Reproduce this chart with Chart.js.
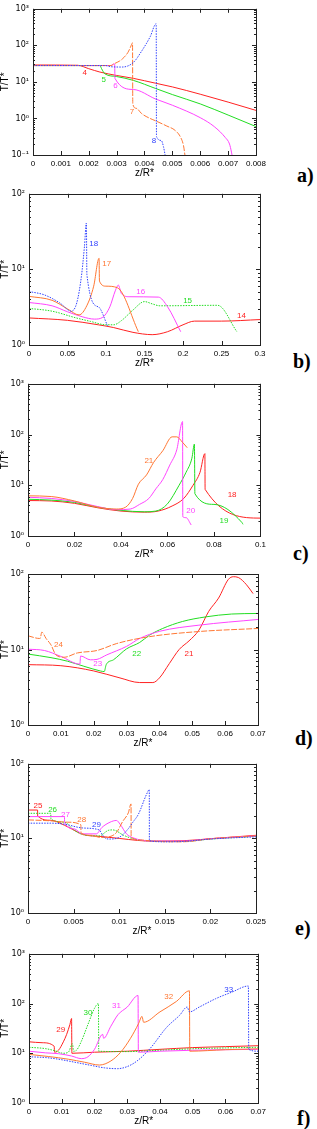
<!DOCTYPE html>
<html>
<head>
<meta charset="utf-8">
<script src="https://cdn.jsdelivr.net/npm/chart.js@4.4.0/dist/chart.umd.min.js"></script>
<style>
  body { margin: 0; background: #fff; width: 317px; height: 1129px; position: relative; overflow: hidden; }
  canvas { position: absolute; left: 0; }
  .tag { position: absolute; font: bold 20px "Liberation Serif", serif; line-height: 20px; color: #000; }
</style>
</head>
<body>
<canvas id="pa" width="270" height="180" style="top:0px"></canvas>
<canvas id="pb" width="270" height="185" style="top:185px"></canvas>
<canvas id="pc" width="270" height="186" style="top:375px"></canvas>
<canvas id="pd" width="270" height="185" style="top:565px"></canvas>
<canvas id="pe" width="270" height="183" style="top:755px"></canvas>
<canvas id="pf" width="270" height="183" style="top:945px"></canvas>
<div class="tag" style="left:297px;top:165px">a)</div>
<div class="tag" style="left:293px;top:351px">b)</div>
<div class="tag" style="left:293px;top:543px">c)</div>
<div class="tag" style="left:295px;top:728px">d)</div>
<div class="tag" style="left:295px;top:918px">e)</div>
<div class="tag" style="left:297px;top:1108px">f)</div>
<script>
// ---- panel a) ----
const a4 = [[0,29],[0.0016,28.5],[0.002,23],[0.0024,18.6],[0.003,15],[0.0036,12.5],[0.0044,9.2],[0.005,7.3],[0.006,4.6],[0.007,2.8],[0.008,1.66]];
const a5 = [[0,28],[0.0024,28],[0.00246,23],[0.00258,16.6],[0.003,14],[0.0036,11],[0.0044,6.6],[0.005,4.5],[0.006,2.5],[0.007,1.24],[0.008,0.6]];
const a6 = [[0,28],[0.0028,28],[0.0029,31],[0.00293,31],[0.00294,12.5],[0.0036,6.2],[0.0044,3.4],[0.005,2.3],[0.006,1.05],[0.0065,0.6],[0.0069,0.3],[0.00705,0.2],[0.00712,0.12],[0.00714,0.1]];
const a7 = [[0,28],[0.0028,28],[0.0029,31],[0.0031,37],[0.0032,42],[0.0034,63],[0.0035,90],[0.00357,117],[0.00358,2.5],[0.0037,1.9],[0.0039,1.35],[0.0042,1.0],[0.0044,0.86],[0.0048,0.62],[0.0051,0.47],[0.0053,0.3],[0.0054,0.18],[0.00545,0.1]];
const a8 = [[0,28],[0.0026,28],[0.0028,26],[0.0032,25.5],[0.0036,34],[0.0039,70],[0.0042,170],[0.00442,390],[0.00443,0.32],[0.0046,0.25],[0.00468,0.17],[0.00474,0.1]];
const aTags = ['4','5','6','7','8'];
const aTagX = [0.00186,0.00254,0.00296,0.00355,0.00434];
const aTagY = [17.4,11.5,7.7,1.49,0.24];
const aXTicks = ['0','0.001','0.002','0.003','0.004','0.005','0.006','0.007','0.008'];

// ---- panel b) ----
const b14 = [[0,2.28],[0.05,2.12],[0.09,1.85],[0.11,1.7],[0.135,1.47],[0.16,1.37],[0.18,1.5],[0.2,1.85],[0.215,2.07],[0.25,2.07],[0.3,2.17]];
const b15 = [[0,3.05],[0.03,2.8],[0.06,2.3],[0.08,2.05],[0.1,1.85],[0.11,1.85],[0.12,2.1],[0.135,2.9],[0.15,3.75],[0.16,3.5],[0.17,3.3],[0.245,3.35],[0.27,1.5]];
const b16 = [[0,3.65],[0.03,3.3],[0.05,2.75],[0.07,2.35],[0.085,2.2],[0.095,2.3],[0.105,3.2],[0.112,5.2],[0.116,6.2],[0.12,4.8],[0.13,4.35],[0.168,4.3],[0.18,3.2],[0.197,1.5]];
const b17 = [[0,4.4],[0.03,3.9],[0.05,3.0],[0.065,2.5],[0.075,3.3],[0.084,6],[0.091,14],[0.0915,7],[0.1,6],[0.115,5.7],[0.142,1.5]];
const b18 = [[0,5.1],[0.02,4.6],[0.04,3.6],[0.055,2.8],[0.062,3.6],[0.068,8],[0.072,20],[0.0745,41],[0.0752,8.5],[0.09,3.2],[0.102,1.8]];
const bTags = ['14','15','16','17','18'];
const bTagX = [0.276,0.206,0.145,0.101,0.084];
const bTagY = [2.4,3.8,5.1,12,22];
const bXTicks = ['0','0.05','0.1','0.15','0.2','0.25','0.3'];

// ---- panel c) ----
const c18 = [[0,5],[0.01,4.9],[0.02,4.4],[0.03,3.6],[0.04,3.1],[0.05,2.95],[0.056,3.1],[0.062,3.9],[0.067,5.5],[0.071,10],[0.074,18],[0.0761,42],[0.0762,8.3],[0.1,2.25]];
const c19 = [[0,5.3],[0.01,5.1],[0.02,4.6],[0.03,3.7],[0.04,3.2],[0.05,3.0],[0.055,3.1],[0.06,4.3],[0.065,10],[0.068,18],[0.0705,34],[0.0716,65],[0.0718,6.8],[0.08,4.2],[0.092,1.85],[0.0925,1.7]];
const c20 = [[0,5.8],[0.01,5.5],[0.02,4.8],[0.03,3.8],[0.038,3.3],[0.044,3.4],[0.048,4.2],[0.052,5.5],[0.055,8.5],[0.058,13],[0.061,25],[0.064,50],[0.0665,180],[0.0666,2.4],[0.068,2.3],[0.0702,1.65]];
const c21 = [[0,6.2],[0.01,6],[0.02,4.9],[0.03,3.7],[0.038,3.4],[0.042,3.7],[0.045,5.5],[0.0475,10.5],[0.051,16],[0.054,28],[0.058,48],[0.062,90],[0.064,90],[0.0665,70],[0.0685,55]];
const cTags = ['18','19','20','21'];
const cTagX = [0.0878,0.0843,0.07,0.052];
const cTagY = [6.6,2.0,3.1,30];
const cXTicks = ['0','0.02','0.04','0.06','0.08','0.1'];

// ---- panel d) ----
const d21 = [[0,6.3],[0.01,6.1],[0.02,5.2],[0.028,4.2],[0.034,3.65],[0.038,3.65],[0.04,4.2],[0.043,6.5],[0.046,10],[0.049,13],[0.052,18],[0.055,32],[0.058,48],[0.061,85],[0.0625,92],[0.064,90],[0.0665,72],[0.0685,55]];
const d22 = [[0,8.7],[0.007,7.8],[0.012,7],[0.017,6],[0.022,5.2],[0.0232,5.1],[0.0238,6.3],[0.026,7.3],[0.03,10.2],[0.034,12.4],[0.037,15.5],[0.041,19],[0.047,23.5],[0.054,27],[0.062,29.5],[0.07,30]];
const d23 = [[0,10.1],[0.005,9.7],[0.01,8.1],[0.0158,6.4],[0.016,8.2],[0.019,7.3],[0.021,7.4],[0.024,8.5],[0.03,11],[0.034,14],[0.04,17.4],[0.052,21],[0.07,25]];
const d24 = [[0,15.2],[0.0035,14],[0.0037,14],[0.0042,17],[0.0055,14],[0.007,11.5],[0.0085,8.5],[0.011,7.9],[0.015,9],[0.021,9.7],[0.027,12],[0.037,14.8],[0.052,17.3],[0.07,19]];
const dTags = ['21','22','23','24'];
const dTagX = [0.049,0.0331,0.0212,0.0093];
const dTagY = [8.7,8.7,6.4,11.5];
const dXTicks = ['0','0.01','0.02','0.03','0.04','0.05','0.06','0.07'];

// ---- panel e) ----
const e25 = [[0,24],[0.00105,24],[0.00106,20],[0.0025,17.5],[0.004,15],[0.005,13],[0.006,11.3],[0.008,10.6],[0.01,10],[0.012,9.4],[0.0135,9.2],[0.017,9.3],[0.02,9.9],[0.025,11]];
const e26 = [[0,21.7],[0.0025,21.7],[0.00251,18.2],[0.004,16.5],[0.005,13],[0.006,11.3],[0.0078,10.8],[0.0088,12.8],[0.0093,13],[0.0105,11],[0.0115,9.9],[0.0135,9.2],[0.017,9.1],[0.02,9.8],[0.025,10.7]];
const e27 = [[0,19.6],[0.004,19.6],[0.00401,16.5],[0.005,13.5],[0.006,11.5],[0.0075,11.5],[0.0081,14],[0.009,16.5],[0.0097,17.4],[0.0101,15.5],[0.0108,11.5],[0.0115,10.2],[0.0135,9.2],[0.017,9.2],[0.02,9.9],[0.025,10.8]];
const e28 = [[0,17.7],[0.0025,17.2],[0.0043,16.5],[0.0058,15.2],[0.00581,11.8],[0.007,11],[0.0079,10.3],[0.009,10.6],[0.0097,12],[0.0104,17],[0.011,22],[0.0113,29],[0.01131,10.3],[0.0125,9.5],[0.0135,9.2],[0.017,9],[0.02,9.9],[0.025,10.8]];
const e29 = [[0,16],[0.0025,16],[0.004,15.5],[0.006,13.8],[0.0078,13],[0.0082,11],[0.0085,10],[0.009,9.8],[0.0101,10.5],[0.011,13.5],[0.0115,16.5],[0.0121,21],[0.013,39],[0.0133,45],[0.01331,9.3],[0.015,9],[0.017,9.1],[0.02,9.8],[0.025,10.5]];
const eTags = ['25','26','27','28','29'];
const eTagX = [0.0011,0.0027,0.0041,0.0059,0.0075];
const eTagY = [27.5,24,21,17.7,15.2];
const eXTicks = ['0','0.005','0.01','0.015','0.02','0.025'];

// ---- panel f) ----
const f29 = [[0,17],[0.004,16.3],[0.0077,13.8],[0.0078,10.5],[0.009,11.5],[0.0105,17],[0.0115,24],[0.0125,38],[0.013,50],[0.0131,10],[0.02,10.5],[0.03,11],[0.04,12],[0.05,13],[0.06,13.6],[0.07,14.2]];
const f30 = [[0,13.2],[0.005,12.4],[0.008,11.2],[0.0104,10],[0.012,10.5],[0.0133,15.5],[0.0136,11],[0.0145,11.5],[0.016,17.5],[0.018,38],[0.02,80],[0.0212,100],[0.0213,11],[0.03,10.8],[0.04,11.5],[0.05,12.3],[0.06,12.8],[0.07,13.2]];
const f31 = [[0,11],[0.005,10.2],[0.009,9.8],[0.013,8.8],[0.016,7.8],[0.018,8.5],[0.02,12],[0.0225,24],[0.0228,20],[0.025,35],[0.0272,60],[0.03,85],[0.0333,145],[0.0334,10.5],[0.04,11],[0.05,11.5],[0.06,11.8],[0.07,12]];
const f32 = [[0,9.5],[0.006,8.6],[0.012,7.6],[0.017,6.6],[0.0215,5.8],[0.025,7],[0.028,10.5],[0.031,20],[0.0335,40],[0.0345,55],[0.035,42],[0.04,68],[0.045,110],[0.049,180],[0.0491,11],[0.06,11.8],[0.07,12.3]];
const f33 = [[0,8.5],[0.005,8.2],[0.009,7.6],[0.014,6.6],[0.019,5.7],[0.023,5.1],[0.027,4.9],[0.03,5.4],[0.033,7],[0.037,12.5],[0.042,33],[0.046,58],[0.0483,85],[0.049,68],[0.052,85],[0.057,125],[0.062,170],[0.067,225],[0.0671,12],[0.07,11]];
const fTags = ['29','30','31','32','33'];
const fTagX = [0.0097,0.018,0.0267,0.0427,0.061];
const fTagY = [29,65,88,138,188];
const fXTicks = ['0','0.01','0.02','0.03','0.04','0.05','0.06','0.07'];

const RED = '#ff2222', GREEN = '#22dd22', MAG = '#ff44ff', ORA = '#ff7733', BLUE = '#3344ff';
const SUP = {'-':'\u207B','0':'\u2070','1':'\u00B9','2':'\u00B2','3':'\u00B3'};
const pow10 = e => '10' + String(e).split('').map(c => SUP[c]).join('');

// frame, inward ticks and curve tags
const framePlugin = {
  id: 'frame',
  afterDraw(chart, args, opts) {
    const {ctx, chartArea: a, scales: {x, y}} = chart;
    ctx.save();
    ctx.strokeStyle = '#222';
    ctx.lineWidth = 1;
    ctx.strokeRect(Math.round(a.left) + 0.5, Math.round(a.top) + 0.5, Math.round(a.right - a.left), Math.round(a.bottom - a.top));
    ctx.beginPath();
    x.ticks.forEach(t => {
      const px = Math.round(x.getPixelForValue(t.value)) + 0.5;
      ctx.moveTo(px, a.bottom); ctx.lineTo(px, a.bottom - 4);
      ctx.moveTo(px, a.top); ctx.lineTo(px, a.top + 4);
    });
    const e0 = Math.round(Math.log10(y.min)), e1 = Math.round(Math.log10(y.max));
    for (let e = e0; e <= e1; e++) {
      for (let m = 1; m <= 9; m++) {
        const v = m * Math.pow(10, e);
        if (v < y.min * 0.999 || v > y.max * 1.001) continue;
        const py = Math.round(y.getPixelForValue(v)) + 0.5;
        const len = m === 1 ? 4 : 2;
        ctx.moveTo(a.left, py); ctx.lineTo(a.left + len, py);
        ctx.moveTo(a.right, py); ctx.lineTo(a.right - len, py);
      }
    }
    ctx.stroke();
    ctx.font = '8px "Liberation Sans", Arial, sans-serif';
    ctx.textAlign = 'center';
    ctx.textBaseline = 'middle';
    opts.tags.forEach(t => {
      ctx.fillStyle = t.color;
      ctx.fillText(t.text, x.getPixelForValue(t.x), y.getPixelForValue(t.y));
    });
    ctx.restore();
  }
};

function ds(pts, color, dash) {
  return {
    data: pts.map(p => ({x: p[0], y: p[1]})),
    borderColor: color,
    borderWidth: 1,
    borderDash: dash || [],
    pointRadius: 0,
    fill: false,
    cubicInterpolationMode: 'monotone'
  };
}

function makePanel(id, box, xMax, xLabels, yExps, series, tagText, tagX, tagY, tagColors) {
  const canvas = document.getElementById(id);
  const xVals = xLabels.map(parseFloat);
  const yVals = yExps.map(e => Math.pow(10, e));
  const tags = tagText.map((t, i) => ({text: t, x: tagX[i], y: tagY[i], color: tagColors[i]}));
  new Chart(canvas, {
    type: 'line',
    data: {datasets: series},
    options: {
      responsive: false,
      animation: false,
      layout: {padding: {left: 0, top: box.top, right: canvas.width - box.right, bottom: 0}},
      plugins: {legend: {display: false}, tooltip: {enabled: false}, frame: {tags: tags}},
      scales: {
        x: {
          type: 'linear', min: 0, max: xMax,
          afterBuildTicks: s => { s.ticks = xVals.map(v => ({value: v})); },
          afterFit: s => { s.height = canvas.height - box.bottom; },
          grid: {display: false, drawTicks: false}, border: {display: false},
          ticks: {autoSkip: false, maxRotation: 0, padding: 4, color: '#000',
                  font: {size: 8, family: '"Liberation Sans", Arial, sans-serif'},
                  callback: (v, i) => xLabels[i]},
          title: {display: true, text: 'z/R*', color: '#000', padding: {top: 0, bottom: 1},
                  font: {size: 10, family: '"Liberation Sans", Arial, sans-serif'}}
        },
        y: {
          type: 'logarithmic', min: yVals[0], max: yVals[yVals.length - 1],
          afterBuildTicks: s => { s.ticks = yVals.map(v => ({value: v})); },
          afterFit: s => { s.width = box.left; },
          grid: {display: false, drawTicks: false}, border: {display: false},
          ticks: {autoSkip: false, padding: 4, color: '#000',
                  font: {size: 8, family: '"DejaVu Sans", sans-serif'},
                  callback: (v, i) => pow10(yExps[i])},
          title: {display: true, text: 'T/T*', color: '#000', padding: {top: 0, bottom: 0},
                  font: {size: 10, lineHeight: 1, family: '"Liberation Sans", Arial, sans-serif'}}
        }
      }
    },
    plugins: [framePlugin]
  });
}

const dot = [1.5, 1.2];
const dashdot = [6, 1.5];

makePanel('pa', {left: 33, right: 257, top: 5, bottom: 155}, 0.008, aXTicks, [-1, 0, 1, 2, 3],
  [ds(a8, BLUE, dot), ds(a7, ORA, dashdot), ds(a6, MAG), ds(a5, GREEN), ds(a4, RED)],
  aTags, aTagX, aTagY, [RED, GREEN, MAG, ORA, BLUE]);

makePanel('pb', {left: 29, right: 260, top: 7, bottom: 160}, 0.3, bXTicks, [0, 1, 2],
  [ds(b18, BLUE, dot), ds(b17, ORA), ds(b16, MAG), ds(b15, GREEN, dot), ds(b14, RED)],
  bTags, bTagX, bTagY, [RED, GREEN, MAG, ORA, BLUE]);

makePanel('pc', {left: 28, right: 261, top: 8, bottom: 161}, 0.1, cXTicks, [0, 1, 2, 3],
  [ds(c21, ORA), ds(c20, MAG), ds(c19, GREEN), ds(c18, RED)],
  cTags, cTagX, cTagY, [RED, GREEN, MAG, ORA]);

makePanel('pd', {left: 28, right: 258, top: 9, bottom: 160}, 0.07, dXTicks, [0, 1, 2],
  [ds(d24, ORA, dashdot), ds(d23, MAG), ds(d22, GREEN), ds(d21, RED)],
  dTags, dTagX, dTagY, [RED, GREEN, MAG, ORA]);

makePanel('pe', {left: 28, right: 257, top: 8, bottom: 158}, 0.025, eXTicks, [0, 1, 2],
  [ds(e29, BLUE, dot), ds(e28, ORA, dashdot), ds(e27, MAG), ds(e26, GREEN, dot), ds(e25, RED)],
  eTags, eTagX, eTagY, [RED, GREEN, MAG, ORA, BLUE]);

makePanel('pf', {left: 29, right: 259, top: 7, bottom: 158}, 0.07, fXTicks, [0, 1, 2, 3],
  [ds(f33, BLUE, dot), ds(f32, ORA), ds(f31, MAG), ds(f30, GREEN, dot), ds(f29, RED)],
  fTags, fTagX, fTagY, [RED, GREEN, MAG, ORA, BLUE]);
</script>
</body>
</html>
